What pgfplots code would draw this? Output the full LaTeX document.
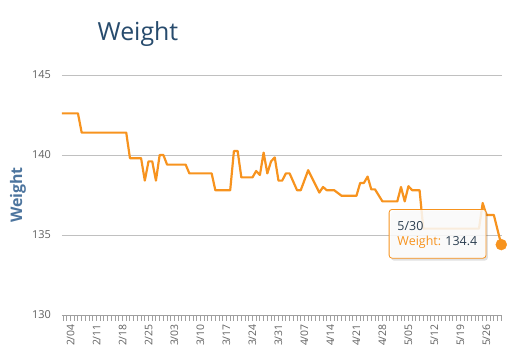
\documentclass[border=0pt]{standalone}
\usepackage{pgfplots}
\pgfplotsset{compat=1.18}
\usepackage{fontspec}
\setmainfont{Open Sans}
\definecolor{lineor}{RGB}{247,147,30}
\definecolor{titleblue}{RGB}{39,75,109}
\definecolor{ylab}{RGB}{77,117,158}
\definecolor{ticktxt}{RGB}{96,96,96}
\definecolor{gridc}{RGB}{192,192,192}
\definecolor{tickc}{RGB}{160,160,160}
\definecolor{tipdark}{RGB}{43,62,80}
\begin{document}
\begin{tikzpicture}
\useasboundingbox (-62bp,-47bp) rectangle (452bp,315bp);
\begin{axis}[
  scale only axis, width=440bp, height=240bp,
  at={(0,0)}, anchor=south west,
  xmin=-2.3, xmax=116.2, ymin=130, ymax=145,
  clip=false,
  separate axis lines,
  axis x line*=bottom, axis y line*=left,
  x axis line style={draw=tickc, line width=1pt, -},
  y axis line style={draw=none},
  xtick pos=bottom, ytick pos=left,
  xtick align=outside, ytick align=outside,
  ytick={130,135,140,145},
  ymajorgrids, grid style={draw=gridc, line width=0.8pt},
  yticklabel style={font=\fontsize{11}{12}\selectfont, color=ticktxt, xshift=-2bp},
  xtick={0,7,...,112},
  xticklabels={2/04,2/11,2/18,2/25,3/03,3/10,3/17,3/24,3/31,4/07,4/14,4/21,4/28,5/05,5/12,5/19,5/26},
  minor xtick={-2,-1,...,116},
  major tick length=5.5bp, minor tick length=5.5bp,
  every major x tick/.style={draw=tickc, line width=1pt},
  every minor x tick/.style={draw=tickc, line width=1pt},
  every major y tick/.style={draw=none},
  xticklabel style={font=\fontsize{10.5}{12}\selectfont, color=ticktxt, rotate=90, anchor=east, inner sep=3.5bp},
  /pgf/number format/assume math mode=true,
  ylabel={\bfseries Weight},
  ylabel style={at={(axis description cs:-0.100,0.5)}, anchor=center, rotate=0, color=ylab, font=\fontsize{16}{17}\selectfont},
  title={Weight},
  title style={at={(axis description cs:0.1727,1.145)}, anchor=center, color=titleblue, font=\fontsize{25}{28}\selectfont},
]
\addplot[color=lineor, line width=2.2pt, line join=round, mark=none] coordinates {
(-2.3,142.6) (2,142.6) (3,141.4) (15,141.4) (16,139.8) (19,139.8) (20,138.4)
(21,139.6) (22,139.6) (23,138.4) (24,140.0) (25,140.0) (26,139.4) (31,139.4)
(32,138.85) (38,138.85) (39,137.8) (43,137.8) (44,140.25) (45,140.25) (46,138.6)
(49,138.6) (50,139.0) (51,138.75) (52,140.15) (53,138.85) (54,139.6) (55,139.85)
(56,138.4) (57,138.4) (58,138.85) (59,138.85) (61,137.8) (62,137.8) (64,139.05)
(67,137.65) (68,138.0) (69,137.8) (71,137.8) (73,137.45) (77,137.45) (78,138.25)
(79,138.25) (80,138.65) (81,137.85) (82,137.85) (84,137.1) (88,137.1) (89,138.0)
(90,137.1) (91,138.05) (92,137.8) (94,137.8) (95,135.4) (110,135.4) (111,137.0)
(112,136.25) (114,136.25) (116,134.4)
};
\fill[black, opacity=0.12, rounded corners=3bp] (axis cs:86.3,136.5) rectangle (axis cs:112.4,133.4);
\draw[draw=lineor, line width=0.8pt, fill=white, fill opacity=0.85, rounded corners=3bp] (axis cs:85.8,136.6) rectangle (axis cs:111.9,133.55);
\node[anchor=west, inner sep=0pt, font=\fontsize{12.5}{13}\selectfont, color=tipdark] at (axis cs:88.0,135.55) {5/30};
\node[anchor=west, inner sep=0pt, font=\fontsize{12.5}{13}\selectfont] at (axis cs:88.0,134.55) {\textcolor{lineor}{Weight:} \textcolor{tipdark}{134.4}};
\addplot[only marks, mark=*, mark size=5.5bp, color=lineor, fill=lineor] coordinates {(116,134.4)};
\end{axis}
\end{tikzpicture}
\end{document}
